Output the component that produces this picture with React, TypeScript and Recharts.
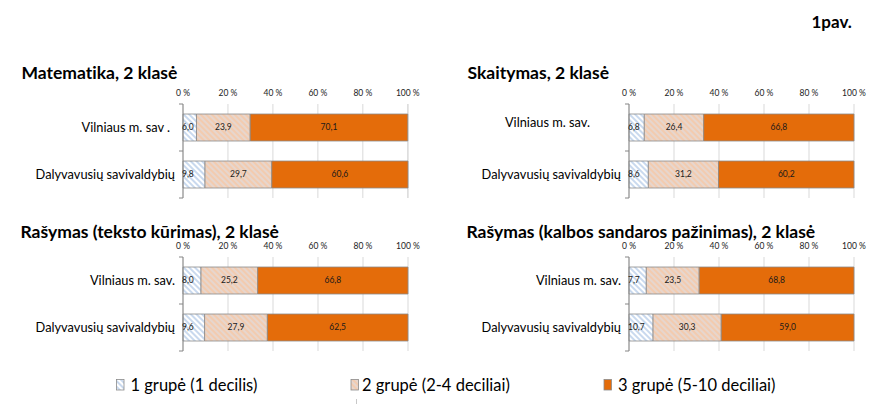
import React from 'react';
import { BarChart, Bar, XAxis, YAxis, CartesianGrid, LabelList } from 'recharts';

// ---------- data ----------
const categories = ['Vilniaus m. sav.', 'Dalyvavusių savivaldybių'];
const mathCategories = ['Vilniaus m. sav .', 'Dalyvavusių savivaldybių'];
const seriesNames = ['1 grupė (1 decilis)', '2 grupė (2-4 deciliai)', '3 grupė (5-10 deciliai)'];
const percentTicks = [0, 20, 40, 60, 80, 100];

const mathGroup1 = [6.0, 9.8];
const mathGroup2 = [23.9, 29.7];
const mathGroup3 = [70.1, 60.6];

const readingGroup1 = [6.8, 8.6];
const readingGroup2 = [26.4, 31.2];
const readingGroup3 = [66.8, 60.2];

const writingTextGroup1 = [8.0, 9.6];
const writingTextGroup2 = [25.2, 27.9];
const writingTextGroup3 = [66.8, 62.5];

const writingLangGroup1 = [7.7, 10.7];
const writingLangGroup2 = [23.5, 30.3];
const writingLangGroup3 = [68.8, 59.0];

const titles = [
  'Matematika, 2 klasė',
  'Skaitymas, 2 klasė',
  'Rašymas (teksto kūrimas), 2 klasė',
  'Rašymas (kalbos sandaros pažinimas), 2 klasė',
];
const figureLabel = '1pav.';

// ---------- styles ----------
const FONT = 'Lato, "Liberation Sans", sans-serif';
const ORANGE = '#E46C0A';
const BORDER = '#8a8a8a';
const CHART_W = 446;
const CHART_H = 120;
const MARGIN = { top: 0, right: 38, bottom: 7, left: 0 };
const X_AXIS_H = 19;
const Y_AXIS_W = 183;
const BAND = (CHART_H - MARGIN.top - MARGIN.bottom - X_AXIS_H) / 2;
const NO_LIG = { fontVariantLigatures: 'none' } as React.CSSProperties;

const fmt = (v: number) => v.toFixed(1).replace('.', ',');

const panels = [
  {
    title: titles[0], cats: mathCategories, g1: mathGroup1, g2: mathGroup2, g3: mathGroup3,
    left: 0, top: 85, titleX: 21.5, titleY: 78.5,
    shifts: [{ dx: -5, dy: 0 }, { dx: 0, dy: 0 }],
  },
  {
    title: titles[1], cats: categories, g1: readingGroup1, g2: readingGroup2, g3: readingGroup3,
    left: 446, top: 85, titleX: 467.5, titleY: 78.5,
    shifts: [{ dx: -31, dy: -5 }, { dx: 0, dy: 0 }],
  },
  {
    title: titles[2], cats: categories, g1: writingTextGroup1, g2: writingTextGroup2, g3: writingTextGroup3,
    left: 0, top: 238, titleX: 20.5, titleY: 237.5,
    shifts: [{ dx: 0, dy: 0 }, { dx: 0, dy: 0 }],
  },
  {
    title: titles[3], cats: categories, g1: writingLangGroup1, g2: writingLangGroup2, g3: writingLangGroup3,
    left: 446, top: 238, titleX: 466.5, titleY: 237.5,
    shifts: [{ dx: 0, dy: 0 }, { dx: 0, dy: 0 }],
  },
];

const getBox = (p: any) => {
  const vb = p.viewBox || {};
  return {
    x: p.x ?? vb.x ?? 0,
    y: p.y ?? vb.y ?? 0,
    width: p.width ?? vb.width ?? 0,
    height: p.height ?? vb.height ?? 0,
  };
};

const StartLabel = (p: any) => {
  const b = getBox(p);
  if (p.value == null) return null;
  return (
    <text x={b.x - 1} y={b.y + b.height / 2} dy="0.35em" textAnchor="start"
      fontSize={8.5} fontFamily={FONT} fill="#1a1a1a">{fmt(Number(p.value))}</text>
  );
};

const CenterLabel = (p: any) => {
  const b = getBox(p);
  if (p.value == null) return null;
  return (
    <text x={b.x + b.width / 2} y={b.y + b.height / 2} dy="0.35em" textAnchor="middle"
      fontSize={8.5} fontFamily={FONT} fill="#1a1a1a">{fmt(Number(p.value))}</text>
  );
};

const makeCategoryTick = (shifts: { dx: number; dy: number }[]) => (props: any) => {
  const { x, y, payload, index } = props;
  const s = shifts[index] || { dx: 0, dy: 0 };
  const isLast = index === shifts.length - 1;
  return (
    <g>
      <line x1={x - 4} x2={x} y1={y - BAND / 2} y2={y - BAND / 2} stroke="#868686" strokeWidth={1} />
      {isLast && <line x1={x - 4} x2={x} y1={y + BAND / 2} y2={y + BAND / 2} stroke="#868686" strokeWidth={1} />}
      <text x={x - 8 + s.dx} y={y + s.dy} dy="0.35em" textAnchor="end" fontSize={12.8}
        fontFamily={FONT} fill="#000" style={NO_LIG}>{payload.value}</text>
    </g>
  );
};

const Panel = ({ cfg }: { cfg: typeof panels[number] }) => {
  const data = cfg.cats.map((name, i) => ({ name, g1: cfg.g1[i], g2: cfg.g2[i], g3: cfg.g3[i] }));
  return (
    <div style={{ position: 'absolute', left: cfg.left, top: cfg.top, width: CHART_W, height: CHART_H }}>
      <BarChart layout="vertical" width={CHART_W} height={CHART_H} data={data} margin={MARGIN} barSize={27}>
        <CartesianGrid horizontal={false} vertical={true} stroke="#d9d9d9" />
        <XAxis type="number" orientation="top" domain={[0, 100]} ticks={percentTicks}
          tickFormatter={(v: number) => `${v} %`} axisLine={false} tickLine={false}
          tickSize={0} tickMargin={8} height={X_AXIS_H} interval={0}
          tick={{ fontSize: 8.5, fontFamily: FONT, fill: '#222' }} />
        <YAxis type="category" dataKey="name" width={Y_AXIS_W} tickLine={false} tickSize={0}
          tickMargin={0} axisLine={{ stroke: '#868686' }} interval={0}
          tick={makeCategoryTick(cfg.shifts)} />
        <Bar dataKey="g1" name={seriesNames[0]} stackId="a" fill="url(#patBlue)" stroke={BORDER}
          strokeWidth={0.8} isAnimationActive={false}>
          <LabelList dataKey="g1" content={StartLabel} />
        </Bar>
        <Bar dataKey="g2" name={seriesNames[1]} stackId="a" fill="url(#patBeige)" stroke={BORDER}
          strokeWidth={0.8} isAnimationActive={false}>
          <LabelList dataKey="g2" content={CenterLabel} />
        </Bar>
        <Bar dataKey="g3" name={seriesNames[2]} stackId="a" fill={ORANGE} stroke={BORDER}
          strokeWidth={0.8} isAnimationActive={false}>
          <LabelList dataKey="g3" content={CenterLabel} />
        </Bar>
      </BarChart>
    </div>
  );
};

const legendItems = [
  { name: seriesNames[0], fill: 'url(#patBlue)', sx: 116.5, tx: 130.5 },
  { name: seriesNames[1], fill: 'url(#patBeige)', sx: 351, tx: 362 },
  { name: seriesNames[2], fill: ORANGE, sx: 604, tx: 618 },
];

export default function App() {
  return (
    <div style={{ position: 'absolute', left: 0, top: 0, width: 892, height: 407, overflow: 'hidden', background: '#fff' }}>
      <svg width={892} height={407} style={{ position: 'absolute', left: 0, top: 0 }}>
        <defs>
          <pattern id="patBlue" patternUnits="userSpaceOnUse" width="4" height="4" patternTransform="rotate(-45)">
            <rect width="4" height="4" fill="#ffffff" />
            <line x1="1" y1="0" x2="1" y2="4" stroke="#bcd0ea" strokeWidth="1.6" />
          </pattern>
          <pattern id="patBeige" patternUnits="userSpaceOnUse" width="4" height="4" patternTransform="rotate(-45)">
            <rect width="4" height="4" fill="#e7d6cd" />
            <line x1="1" y1="0" x2="1" y2="4" stroke="#f6c9a8" strokeWidth="1.6" />
          </pattern>
        </defs>
        <text x={811.5} y={27.5} fontSize={17} fontWeight="bold" fontFamily={FONT} fill="#000" style={NO_LIG}>{figureLabel}</text>
        {panels.map((p, i) => (
          <text key={i} x={p.titleX} y={p.titleY} fontSize={17.5} fontWeight="bold" fontFamily={FONT} fill="#000" style={NO_LIG}>{p.title}</text>
        ))}
        {legendItems.map((l, i) => (
          <g key={i}>
            <rect x={l.sx} y={379.5} width={7.5} height={10.5} fill={l.fill} stroke={BORDER} strokeWidth={0.8} />
            <text x={l.tx} y={390.5} fontSize={16.5} fontFamily={FONT} fill="#000" style={NO_LIG}>{l.name}</text>
          </g>
        ))}
        <line x1={356.5} x2={356.5} y1={399} y2={404} stroke="#c8c8c8" strokeWidth={1} />
      </svg>
      {panels.map((p, i) => <Panel key={i} cfg={p} />)}
    </div>
  );
}
